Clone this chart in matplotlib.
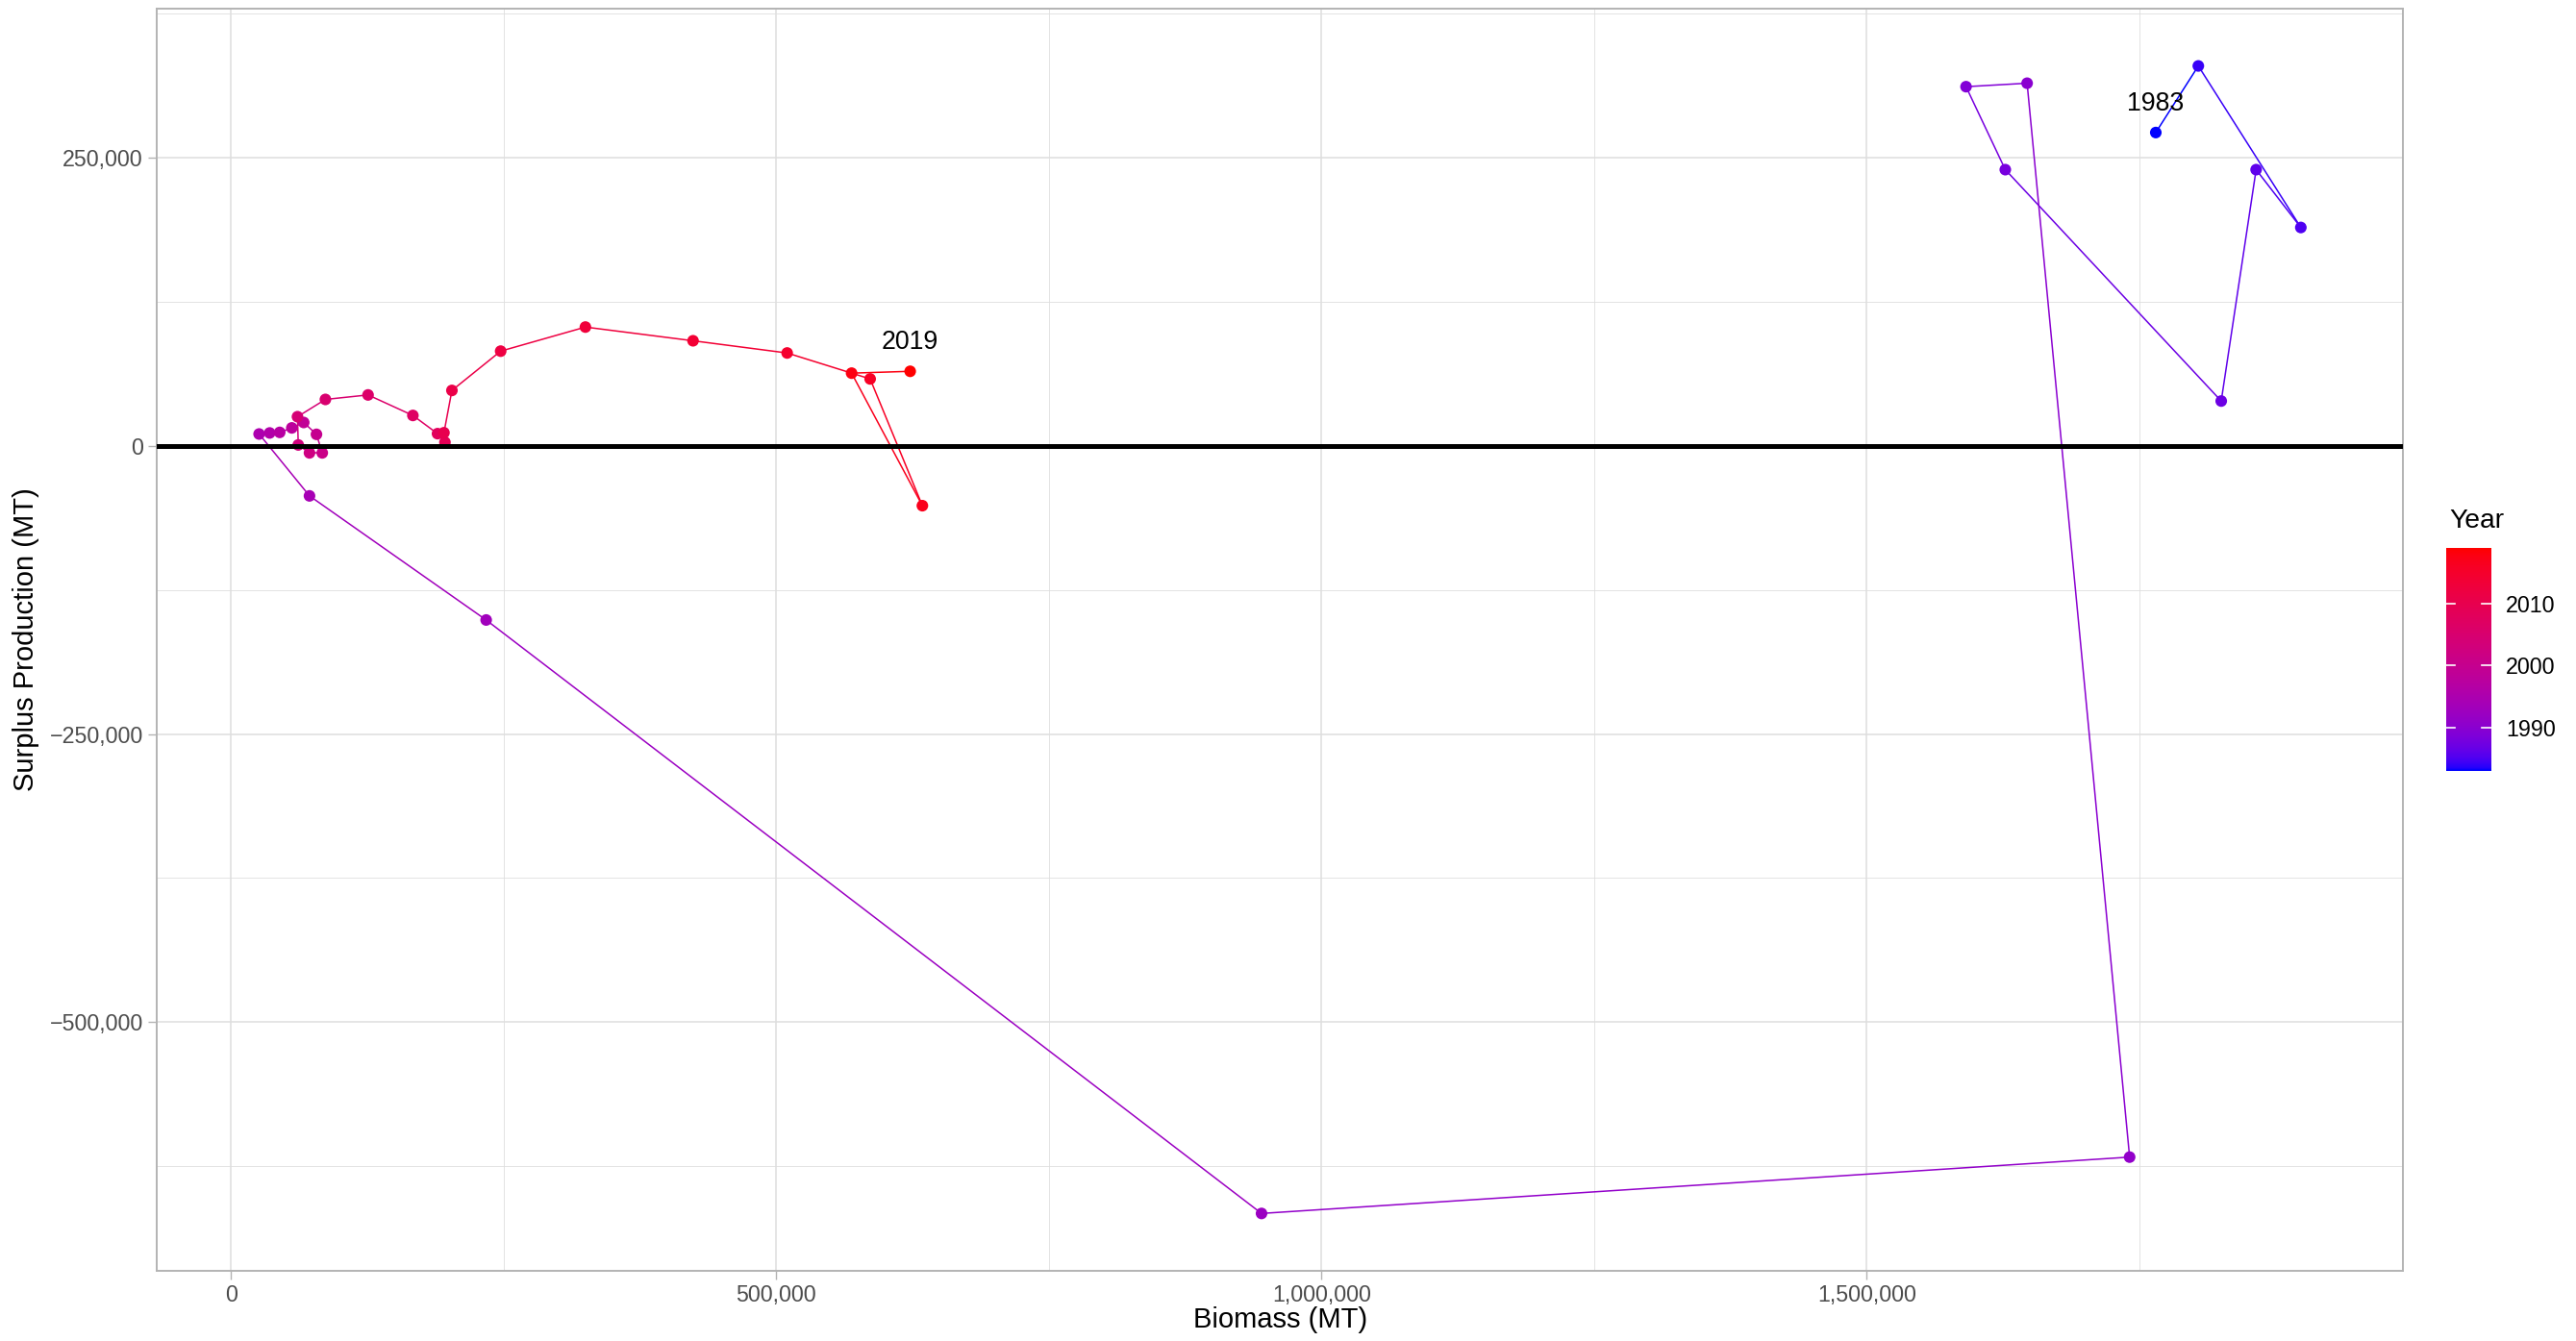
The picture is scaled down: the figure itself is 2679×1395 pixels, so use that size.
import numpy as np
import matplotlib
matplotlib.use("Agg")
import matplotlib.pyplot as plt
from matplotlib.collections import LineCollection
from matplotlib.colors import ListedColormap, Normalize
from matplotlib.ticker import FixedLocator, FuncFormatter

plt.rcParams['font.family'] = ['Liberation Sans', 'DejaVu Sans']

# ---- data (one row per year) ----
year = list(range(1983, 2020))
biomass = [1765000, 1804000, 1898000, 1857000, 1825000, 1627000, 1591000, 1647000,
           1741000, 945000, 234000, 72000, 25800, 35500, 44700, 55800, 66700, 78400,
           83700, 72000, 61700, 61000, 86600, 125700, 166800, 189400, 196200, 195300,
           202600, 247300, 325000, 423700, 510000, 586100, 634000, 569100, 622800]
surplus = [272000, 329800, 189600, 239800, 39000, 239800, 311800, 314800,
           -617100, -666000, -151000, -43300, 10400, 11300, 11800, 15700, 20400, 10100,
           -6000, -6000, 900, 25400, 40400, 44300, 26500, 10700, 3200, 11500,
           48200, 82300, 103200, 91300, 80700, 58200, -51800, 63200, 64800]
labelled_years = [1983, 2019]
x_ticks = [0, 500000, 1000000, 1500000]
y_ticks = [-500000, -250000, 0, 250000]
legend_ticks = [1990, 2000, 2010]


# ---- blue -> red gradient interpolated in CIELAB (like ggplot's scale_colour_gradient) ----
M = np.array([[0.4124564, 0.3575761, 0.1804375],
              [0.2126729, 0.7151522, 0.0721750],
              [0.0193339, 0.1191920, 0.9503041]])
WHITE = np.array([0.95047, 1.0, 1.08883])


def srgb_to_lab(rgb):
    c = np.asarray(rgb, float)
    lin = np.where(c > 0.04045, ((c + 0.055) / 1.055) ** 2.4, c / 12.92)
    t = (M @ lin) / WHITE
    d = 6 / 29
    f = np.where(t > d ** 3, np.cbrt(t), t / (3 * d * d) + 4 / 29)
    return np.array([116 * f[1] - 16, 500 * (f[0] - f[1]), 200 * (f[1] - f[2])])


def lab_to_srgb(lab):
    L, a, b = lab
    fy = (L + 16) / 116
    fx = fy + a / 500
    fz = fy - b / 200
    d = 6 / 29
    f = np.array([fx, fy, fz])
    t = np.where(f > d, f ** 3, 3 * d * d * (f - 4 / 29)) * WHITE[:, None]
    lin = np.linalg.solve(M, t)
    lin = np.clip(lin, 0, 1)
    c = np.where(lin > 0.0031308, 1.055 * lin ** (1 / 2.4) - 0.055, 12.92 * lin)
    return np.clip(c, 0, 1).T


lab_lo = srgb_to_lab([0, 0, 1])
lab_hi = srgb_to_lab([1, 0, 0])
s = np.linspace(0, 1, 256)
cmap = ListedColormap(lab_to_srgb(lab_lo[:, None] * (1 - s) + lab_hi[:, None] * s))
norm = Normalize(min(year), max(year))

# ---- figure ----
W, H, DPI = 2679, 1395, 200
fig = plt.figure(figsize=(W / DPI, H / DPI), dpi=DPI)
ax = fig.add_axes([163.3 / W, 1 - 1322 / H, (2499 - 163.3) / W, (1322 - 8.9) / H])

bx = np.array(biomass, float)
sy = np.array(surplus, float)
cols = cmap(norm(np.array(year)))

xr = bx.max() - bx.min()
yr = sy.max() - sy.min()
ax.set_xlim(bx.min() - 0.05 * xr, bx.max() + 0.05 * xr)
ax.set_ylim(sy.min() - 0.05 * yr, sy.max() + 0.05 * yr)

# grid
ax.xaxis.set_major_locator(FixedLocator(x_ticks))
ax.yaxis.set_major_locator(FixedLocator(y_ticks))
ax.xaxis.set_minor_locator(FixedLocator([v + 250000 for v in x_ticks]))
ax.yaxis.set_minor_locator(FixedLocator([v + 125000 for v in y_ticks] + [-625000]))
ax.grid(which='major', color='#DEDEDE', linewidth=0.55, zorder=0)
ax.grid(which='minor', color='#DEDEDE', linewidth=0.3, zorder=0)
ax.set_axisbelow(True)

fmt = FuncFormatter(lambda v, p: f"{v:,.0f}".replace("-", "\u2212"))
ax.xaxis.set_major_formatter(fmt)
ax.yaxis.set_major_formatter(fmt)
ax.tick_params(which='major', length=3.2, width=0.5, color='#B3B3B3',
               labelsize=8.4, labelcolor='#4D4D4D', pad=2)
ax.tick_params(which='minor', length=0)
for sp in ax.spines.values():
    sp.set_color('#B3B3B3')
    sp.set_linewidth(0.7)

# path segments take the colour of the starting year
pts = np.column_stack([bx, sy])
segs = np.stack([pts[:-1], pts[1:]], axis=1)
ax.add_collection(LineCollection(segs, colors=cols[:-1], linewidths=0.55, zorder=2))
ax.scatter(bx, sy, s=19, c=cols, linewidths=0, zorder=3)
ax.axhline(0, color='black', linewidth=1.8, zorder=4)

for yy in labelled_years:
    i = year.index(yy)
    ax.text(bx[i], sy[i] + 25000, str(yy), ha='center', va='center',
            fontsize=9.6, color='black', zorder=5)

ax.set_xlabel('Biomass (MT)', fontsize=10.5)
ax.set_ylabel('Surplus Production (MT)', fontsize=10.5)
ax.xaxis.set_label_coords(0.5, -0.0388)
ax.yaxis.set_label_coords(-0.0584, 0.5)
ax.xaxis.label.set_va('center')
ax.yaxis.label.set_va('center')

# ---- colourbar legend ----
cax = fig.add_axes([2544 / W, 1 - 801.7 / H, 46.7 / W, 231.7 / H])
grad = np.linspace(min(year), max(year), 300)[:, None]
cax.imshow(grad, aspect='auto', origin='lower', cmap=cmap, norm=norm,
           extent=[0, 1, min(year), max(year)])
cax.set_xlim(0, 1)
cax.set_ylim(min(year), max(year))
for t in legend_ticks:
    cax.plot([0, 0.2], [t, t], color='white', linewidth=0.6)
    cax.plot([0.8, 1], [t, t], color='white', linewidth=0.6)
cax.set_xticks([])
cax.yaxis.tick_right()
cax.set_yticks(legend_ticks)
cax.tick_params(axis='y', length=0, pad=5.5, labelsize=8.4, labelcolor='black')
for sp in cax.spines.values():
    sp.set_visible(False)
fig.text(2547 / W, 1 - 542.5 / H, 'Year', ha='left', va='center', fontsize=10.2)

fig.savefig('out.png', dpi=DPI)
